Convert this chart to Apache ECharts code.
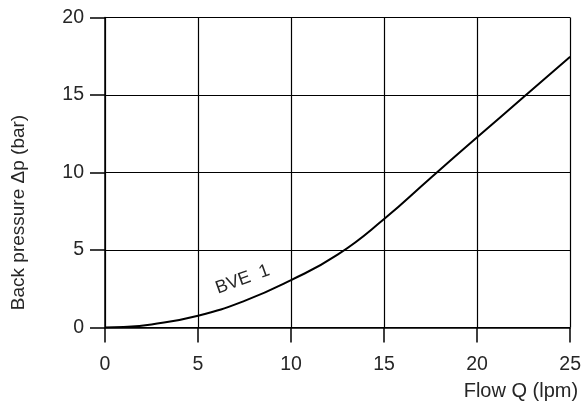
<!DOCTYPE html>
<html>
<head>
<meta charset="utf-8">
<script src="https://cdn.jsdelivr.net/npm/echarts@6/dist/echarts.min.js"></script>
<style>html,body{margin:0;padding:0;background:#fff}#c{width:584px;height:405px}</style>
</head>
<body>
<div id="c"></div>
<script>
var flow = [0, 1, 2.5, 5, 7.5, 10, 12.5, 15, 17.5, 20, 22.5, 25];
var pressure = [0, 0.03, 0.2, 0.76, 1.72, 3.06, 4.7, 7.0, 9.65, 12.27, 14.87, 17.47];
var xTicks = [0, 5, 10, 15, 20, 25];
var yTicks = [0, 5, 10, 15, 20];
var seriesName = 'BVE  1';
var labelPos = [7.4, 3.1];

var font = 'Liberation Sans';
var ink = '#262626';
var chart = echarts.init(document.getElementById('c'));
chart.setOption({
  animation: false,
  grid: {left: 105, right: 10, top: 17.5, bottom: 77.5},
  xAxis: {
    type: 'value', min: xTicks[0], max: xTicks[xTicks.length-1], interval: 5,
    name: 'Flow Q (lpm)', nameLocation: 'end', nameGap: 8,
    nameTextStyle: {fontFamily: font, fontSize: 20, color: ink, align: 'right', verticalAlign: 'top', padding: [54, 0, 0, 0]},
    axisLine: {lineStyle: {color: '#000', width: 1.5}},
    axisTick: {show: true, length: 15, lineStyle: {color: '#000', width: 1.5}},
    axisLabel: {fontFamily: font, fontSize: 19.5, color: ink, margin: 27},
    splitLine: {show: true, lineStyle: {color: '#000', width: 1.2}}
  },
  yAxis: {
    type: 'value', min: yTicks[0], max: yTicks[yTicks.length-1], interval: 5,
    name: 'Back pressure \u0394p (bar)', nameLocation: 'middle', nameGap: 77,
    nameTextStyle: {fontFamily: font, fontSize: 19, color: ink, padding: [0, 80, 0, 0]},
    axisLine: {show: true, lineStyle: {color: '#000', width: 1.5}},
    axisTick: {show: true, length: 15, lineStyle: {color: '#000', width: 1.5}},
    axisLabel: {fontFamily: font, fontSize: 19.5, color: ink, margin: 21},
    splitLine: {show: true, lineStyle: {color: '#000', width: 1.2}}
  },
  series: [{
    name: seriesName, type: 'line', smooth: true, symbol: 'none',
    data: flow.map(function(x, i){ return [x, pressure[i]]; }),
    lineStyle: {color: '#000', width: 2},
    markPoint: {
      symbol: 'circle', symbolSize: 0,
      data: [{coord: labelPos}],
      label: {show: true, formatter: seriesName, fontFamily: font, fontSize: 18, color: ink, rotate: 20, position: 'inside'}
    }
  }]
});
</script>
</body>
</html>
